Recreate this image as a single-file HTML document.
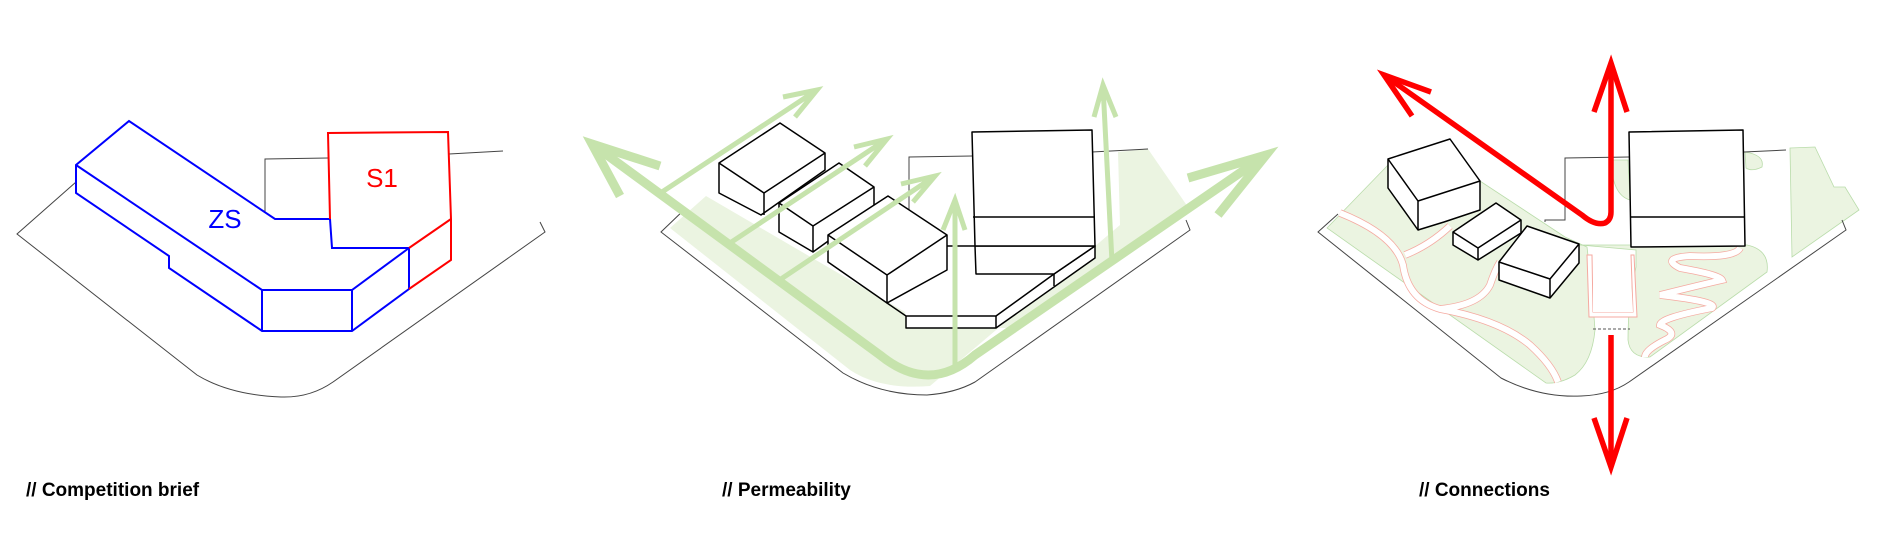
<!DOCTYPE html>
<html><head><meta charset="utf-8"><style>
html,body{margin:0;padding:0;background:#fff;width:1890px;height:535px;overflow:hidden}
svg{display:block}
text.lab{font-family:"Liberation Sans",sans-serif;font-weight:bold;font-size:19px;fill:#000}
</style></head><body>
<svg width="1890" height="535" viewBox="0 0 1890 535" xmlns="http://www.w3.org/2000/svg">
<!-- PANEL 1 -->
<g fill="none" stroke="#444" stroke-width="1">
<path d="M76,182 L17,234 L197,375 Q230,395 281,397 Q310,398 333,382 L545,232 L540,222"/>
<path d="M265,212 L265,159 L328,158"/>
<path d="M449,154 L503,151"/>
</g>
<g fill="none" stroke="#0000ff" stroke-width="2" stroke-linejoin="miter">
<path d="M129,121 L76,165 L76,193 L169,256 L169,268 L262,331 L352,331 L409,289 L409,248 L332,248 L330,219 L275,219 Z"/>
<path d="M76,165 L262,290 L352,290 L409,248 M262,290 L262,331 M352,290 L352,331"/>
</g>
<g fill="none" stroke="#ff0000" stroke-width="2">
<path d="M330,219 L328,133 L448,132 L451,219 L451,260 L409,289 M409,248 L451,219"/>
</g>
<text x="225" y="228" font-family="Liberation Sans,sans-serif" font-size="26" fill="#0000ff" text-anchor="middle">ZS</text>
<text x="382" y="187" font-family="Liberation Sans,sans-serif" font-size="26" fill="#ff0000" text-anchor="middle">S1</text>
<text class="lab" x="26" y="496">// Competition brief</text>

<!-- PANEL 2 -->
<path d="M670,228 L706,196 L905,312 L907,328 L1016,328 L1190,210 L1148,149 L1118,152 L1120,225 L930,386 Q880,390 850,370 Z" fill="#ebf4e1"/>
<g fill="none" stroke="#444" stroke-width="1">
<path d="M686,208 L661,232 L843,373 Q880,395 927,395 Q955,393 975,382 L1190,230 L1186,220"/>
<path d="M909,210 L909,157 L972,156"/>
<path d="M1092,152 L1148,149"/>
</g>
<g fill="#fff" stroke="#000" stroke-width="1.5" stroke-linejoin="round">
<path d="M887,303 L906,316 L996,316 L1054,274 L1095,246 L1095,258 L996,328 L906,328 L906,316"/>
<path d="M947,246 L975,246 L976,274 L1054,274 L1095,246 Z" />
<path d="M972,132 L1092,130 L1095,246 L975,246 Z"/>
<path d="M1054,274 L1054,286 M996,316 L996,328" fill="none"/>
<path d="M780,123 L825,153 L825,170 L761,215 L719,193 L719,163 Z"/>
<path d="M719,163 L764,193 L825,153 M764,193 L764,215" fill="none"/>
<path d="M839,163 L874,187 L874,208 L813,252 L779,232 L779,203 Z"/>
<path d="M779,203 L813,226 L874,187 M813,226 L813,252" fill="none"/>
<path d="M888,196 L947,235 L947,270 L887,303 L828,262 L828,235 Z"/>
<path d="M828,235 L887,275 L947,235 M887,275 L887,303" fill="none"/>
<path d="M973,217 L1095,217" fill="none"/>
</g>
<g fill="none" stroke="#c6e3ac" stroke-linecap="butt" stroke-linejoin="miter">
<path d="M592,144 L880,355 Q929,395 975,355 L1266,155" stroke-width="9"/>
<path d="M660,166 L592,144 L620,196" stroke-width="9"/>
<path d="M1188,178 L1266,155 L1218,215" stroke-width="9"/>
<g stroke-width="5">
<path d="M662,192 L817,90 M783,97 L817,90 L795,117"/>
<path d="M730,243 L887,139 M854,147 L887,139 L865,166"/>
<path d="M781,279 L935,176 M901,184 L935,176 L913,202"/>
<path d="M955,370 L955,200 M943,230 L955,200 L965,230"/>
<path d="M1112,262 L1103,86 M1094,117 L1103,85 L1116,117"/>
</g>
</g>
<text class="lab" x="722" y="496">// Permeability</text>

<!-- PANEL 3 -->
<g fill="#ebf4e1" stroke="#b9dcaa" stroke-width="0.8">
<path d="M1327,228 L1388,165 L1480,181 L1565,237 L1587,247 L1592,290 L1595,330 Q1592,362 1575,375 Q1560,384 1546,383 Z"/>
<path d="M1580,245 L1747,245 Q1770,250 1767,272 L1650,357 Q1630,358 1628,340 Q1628,300 1636,267 L1636,250 Z"/>
<path d="M1611,160 L1628,160 L1630,200 Q1612,195 1611,160 Z"/>
<path d="M1745,152 Q1765,155 1762,167 Q1752,172 1746,168 Z"/>
<path d="M1790,148 L1815,147 L1834,187 L1845,187 L1859,210 L1792,257 Z"/>
</g>
<g fill="none" stroke="#f5a9a0" stroke-width="7.5" stroke-linecap="butt">
<path d="M1340,213 Q1395,235 1403,265 Q1408,300 1440,309 Q1500,320 1530,345 Q1552,365 1558,382"/>
<path d="M1405,255 Q1430,245 1450,226"/>
<path d="M1440,309 Q1480,305 1490,285 Q1495,270 1500,262"/>
<path d="M1740,248 Q1735,258 1690,256 Q1660,258 1680,268 Q1720,275 1722,280 Q1700,285 1660,295 Q1720,302 1712,308 Q1660,318 1660,325 Q1680,333 1665,340 Q1645,350 1645,357"/>
</g>
<g fill="none" stroke="#fff" stroke-width="6" stroke-linecap="butt">
<path d="M1340,213 Q1395,235 1403,265 Q1408,300 1440,309 Q1500,320 1530,345 Q1552,365 1558,382"/>
<path d="M1405,255 Q1430,245 1450,226"/>
<path d="M1440,309 Q1480,305 1490,285 Q1495,270 1500,262"/>
<path d="M1740,248 Q1735,258 1690,256 Q1660,258 1680,268 Q1720,275 1722,280 Q1700,285 1660,295 Q1720,302 1712,308 Q1660,318 1660,325 Q1680,333 1665,340 Q1645,350 1645,357"/>
</g>
<path d="M1587,255 L1592,255 L1593,312 L1633,312 L1631,255 L1634,255 L1637,317 L1589,317 Z" fill="#fff" stroke="#f5a9a0" stroke-width="1"/>
<path d="M1593,278 L1631,278 L1633,312 L1593,312 Z" fill="#fff"/>
<path d="M1593,329 L1630,329" stroke="#555" stroke-width="1" stroke-dasharray="3,2"/>
<g fill="none" stroke="#444" stroke-width="1">
<path d="M1338,214 L1318,232 L1501,378 Q1540,398 1581,396 Q1610,395 1629,382 L1846,230 L1842,220"/>
<path d="M1545,222 L1545,220 L1565,220 L1565,158 L1629,157"/>
<path d="M1744,152 L1786,150"/>
</g>
<g fill="#fff" stroke="#000" stroke-width="1.5" stroke-linejoin="round">
<path d="M1629,132 L1743,130 L1745,246 L1631,247 Z"/>
<path d="M1631,217 L1745,217" fill="none"/>
<path d="M1388,159 L1450,139 L1480,181 L1480,210 L1444,222 L1418,230 L1388,188 Z"/>
<path d="M1388,159 L1418,201 L1480,181 M1418,201 L1418,230" fill="none"/>
<path d="M1453,232 L1496,203 L1521,220 L1521,233 L1478,260 L1453,245 Z"/>
<path d="M1453,232 L1478,248 L1521,220 M1478,248 L1478,260" fill="none"/>
<path d="M1527,226 L1579,244 L1579,263 L1550,298 L1499,280 L1499,262 Z"/>
<path d="M1499,262 L1550,279 L1579,244 M1550,279 L1550,298" fill="none"/>
</g>
<g fill="none" stroke="#ff0000" stroke-width="5.5" stroke-linejoin="miter">
<path d="M1384,75 L1582,215 Q1595,226 1605,223 Q1611,220 1611,212 L1611,66"/>
<path d="M1431,92 L1384,75 L1412,116"/>
<path d="M1594,112 L1611,63 L1627,112"/>
<path d="M1611,335 L1611,462"/>
<path d="M1594,418 L1611,467 L1627,418"/>
</g>
<text class="lab" x="1419" y="496">// Connections</text>
</svg>
</body></html>
